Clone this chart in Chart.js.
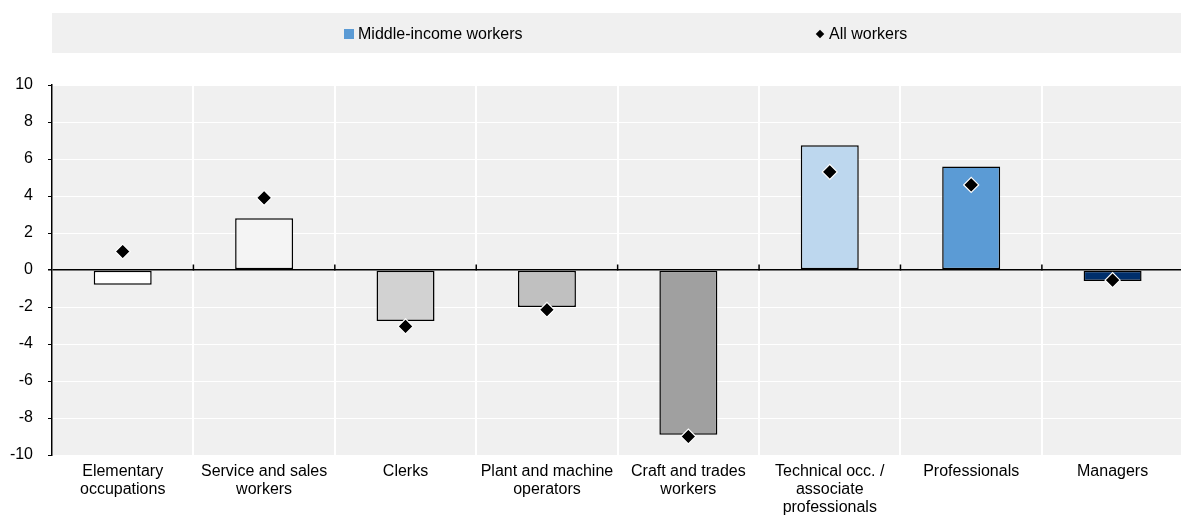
<!DOCTYPE html>
<html>
<head>
<meta charset="utf-8">
<script src="https://cdn.jsdelivr.net/npm/chart.js@4.4.1/dist/chart.umd.min.js"></script>
<style>
  html, body { margin: 0; padding: 0; background: #fff; }
  #wrap { position: relative; width: 1181px; height: 526px; overflow: hidden; }
  #chartBox { position: absolute; left: 0; top: 0; width: 1192px; height: 526px; }
  #legend { position: absolute; left: 52px; top: 13px; width: 1129px; height: 40px; background: #f0f0f0;
            font: 16px "Liberation Sans", Arial, sans-serif; color: #000; }
  .item { position: absolute; top: 1px; height: 40px; display: flex; align-items: center; white-space: nowrap; }
  .sq { width: 10px; height: 10px; margin-right: 4px; }
  .dm { width: 6px; height: 6px; transform: rotate(45deg); margin-left: 1px; margin-right: 6px; }
</style>
</head>
<body>
<div id="wrap">
  <div id="chartBox"><canvas id="chart" width="1192" height="526"></canvas></div>
  <div id="legend"></div>
</div>
<script>
// Occupation groups (multi-line labels)
const categories = [
  ["Elementary", "occupations"],
  ["Service and sales", "workers"],
  ["Clerks"],
  ["Plant and machine", "operators"],
  ["Craft and trades", "workers"],
  ["Technical occ. /", "associate", "professionals"],
  ["Professionals"],
  ["Managers"]
];
// Change in employment share, percentage points
const middleIncome = [-0.8, 2.8, -2.75, -2.0, -8.9, 6.75, 5.6, -0.6];
const allWorkers   = [1.0, 3.9, -3.05, -2.15, -9.0, 5.3, 4.6, -0.55];
const barColours   = ['#ffffff', '#f4f4f4', '#d2d2d2', '#c0c0c0', '#a0a0a0', '#bdd7ee', '#5b9bd5', '#002f6c'];
const yTicks = [-10, -8, -6, -4, -2, 0, 2, 4, 6, 8, 10];
const seriesNames = ["Middle-income workers", "All workers"];

const FONT = '"Liberation Sans", Arial, sans-serif';
Chart.defaults.font.family = FONT;
Chart.defaults.font.size = 16;
Chart.defaults.color = '#000';

// HTML legend
const legendEl = document.getElementById('legend');
const legendItems = [
  { text: seriesNames[0], cls: 'sq', colour: '#5b9bd5', left: 292 },
  { text: seriesNames[1], cls: 'dm', colour: '#000000', left: 764 }
];
legendItems.forEach(it => {
  const d = document.createElement('div');
  d.className = 'item';
  d.style.left = it.left + 'px';
  const m = document.createElement('span');
  m.className = it.cls;
  m.style.background = it.colour;
  const t = document.createElement('span');
  t.textContent = it.text;
  d.appendChild(m); d.appendChild(t);
  legendEl.appendChild(d);
});

// Plot background and short tick marks on the zero line
const plotDecor = {
  id: 'plotDecor',
  beforeDraw(chart) {
    const { ctx, chartArea: a } = chart;
    ctx.save();
    ctx.fillStyle = '#f0f0f0';
    ctx.fillRect(a.left, a.top, a.right - a.left, a.bottom - a.top);
    ctx.restore();
  },
  beforeDatasetsDraw(chart) {
    const { ctx, scales: { x, y } } = chart;
    const y0 = Math.round(y.getPixelForValue(0)) + 0.5;
    ctx.save();
    ctx.strokeStyle = '#000';
    ctx.lineWidth = 1.5;
    ctx.beginPath();
    for (let i = 1; i < categories.length; i++) {
      const bx = (x.getPixelForValue(i) + x.getPixelForValue(i - 1)) / 2;
      ctx.moveTo(bx, y0);
      ctx.lineTo(bx, y0 - 6);
    }
    ctx.stroke();
    ctx.restore();
  }
};

new Chart(document.getElementById('chart'), {
  data: {
    labels: categories,
    datasets: [
      {
        type: 'line',
        label: seriesNames[1],
        data: allWorkers,
        showLine: false,
        pointStyle: 'rectRot',
        pointRadius: 7.5,
        pointBackgroundColor: '#000',
        pointBorderColor: '#fff',
        pointBorderWidth: 1.2,
        order: 0
      },
      {
        type: 'bar',
        label: seriesNames[0],
        data: middleIncome,
        backgroundColor: barColours,
        borderColor: '#000',
        borderWidth: 1.5,
        borderSkipped: false,
        categoryPercentage: 1,
        barPercentage: 0.41,
        order: 1
      }
    ]
  },
  options: {
    responsive: false,
    devicePixelRatio: 1,
    animation: false,
    layout: { padding: { top: 85, right: 0, bottom: 0, left: 0 } },
    plugins: { legend: { display: false }, tooltip: { enabled: false } },
    scales: {
      x: {
        type: 'category',
        offset: true,
        afterFit(s) { s.height = 71; },
        grid: { color: '#ffffff', lineWidth: 2, drawTicks: false, offset: true },
        border: { display: false },
        ticks: { padding: 7, maxRotation: 0, autoSkip: false, color: '#000', font: { size: 16, lineHeight: 1.15 } }
      },
      y: {
        min: yTicks[0],
        max: yTicks[yTicks.length - 1],
        afterFit(s) { s.width = 52; },
        afterBuildTicks(s) { s.ticks = yTicks.map(v => ({ value: v })); },
        grid: {
          color: c => (c.tick && c.tick.value === 0) ? '#000' : '#ffffff',
          lineWidth: c => (c.tick && c.tick.value === 0) ? 1.5 : 1,
          tickColor: '#000',
          tickLength: 4,
          drawTicks: true
        },
        border: { display: true, color: '#000', width: 1.5 },
        ticks: { padding: 15, color: '#000', font: { size: 16 } }
      }
    }
  },
  plugins: [plotDecor]
});
</script>
</body>
</html>
